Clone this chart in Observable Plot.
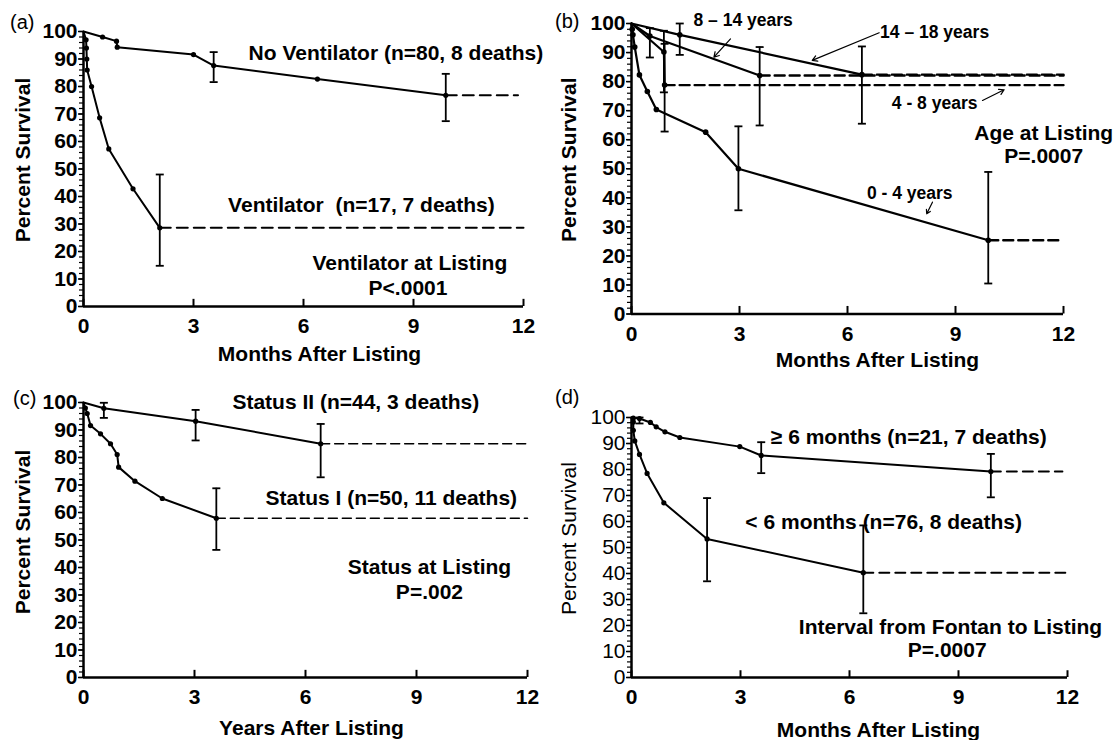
<!DOCTYPE html>
<html><head><meta charset="utf-8">
<script src="https://cdn.jsdelivr.net/npm/d3@7"></script>
<script src="https://cdn.jsdelivr.net/npm/@observablehq/plot@0.6"></script>
<style>
body{margin:0;background:#fff;}
#fig{position:relative;width:1117px;height:740px;overflow:hidden;background:#fff;font-family:"Liberation Sans",Arial,sans-serif;}
.panel{position:absolute;}
.plabel{position:absolute;font-size:20px;line-height:20px;color:#000;font-family:"Liberation Sans",Arial,sans-serif;}
</style></head><body><div id="fig"></div>
<script>
// ---------- shared tick labels ----------
const xTickValues = [0, 3, 6, 9, 12];
const yTickValues = [0, 10, 20, 30, 40, 50, 60, 70, 80, 90, 100];
const yMinorValues = d3.range(0, 101, 2);

// ---------- (a) Ventilator at listing ----------
const aNoVentX = [0, 0.52, 0.9, 0.92, 3.0, 3.55, 6.38, 9.88];
const aNoVentY = [100, 98.0, 96.5, 94.3, 91.6, 87.6, 82.7, 76.8];
const aNoVentEnd = 11.85;
const aNoVentErrX = [3.55, 9.88];
const aNoVentErrLo = [81.6, 67.4];
const aNoVentErrHi = [92.5, 84.6];
const aVentX = [0, 0.07, 0.08, 0.09, 0.1, 0.22, 0.44, 0.69, 1.35, 2.08];
const aVentY = [100, 97, 94, 90, 86, 80, 68.6, 57.3, 42.8, 28.6];
const aVentEnd = 12;
const aVentErrX = [2.08];
const aVentErrLo = [14.8];
const aVentErrHi = [48];

// ---------- (b) Age at listing ----------
const b1418X = [0, 1.34, 6.4];
const b1418Y = [100, 96.1, 82.4];
const b1418End = 12;
const b1418ErrX = [1.34, 6.4];
const b1418ErrLo = [89.2, 65.5];
const b1418ErrHi = [100, 92.1];
const b814X = [0, 0.51, 3.56];
const b814Y = [100, 95.7, 82.1];
const b814End = 12;
const b814ErrX = [0.51, 3.56];
const b814ErrLo = [88.3, 64.9];
const b814ErrHi = [98.4, 91.9];
const b48X = [0, 0.9, 0.92];
const b48Y = [100, 90.2, 78.8];
const b48End = 12;
const b48ErrX = [0.9, 0.92];
const b48ErrLo = [76.3, 62.8];
const b48ErrHi = [97.5, 93];
const b04X = [0, 0.02, 0.04, 0.09, 0.22, 0.44, 0.69, 2.06, 2.97, 9.91];
const b04Y = [100, 98, 96.1, 91.9, 82.3, 76.6, 70.4, 62.6, 50, 25.4];
const b04End = 11.87;
const b04ErrX = [2.97, 9.91];
const b04ErrLo = [35.7, 10.5];
const b04ErrHi = [64.6, 48.9];

// ---------- (c) Status at listing ----------
const cS2X = [0, 0.55, 3.03, 6.41];
const cS2Y = [100, 97.9, 93.2, 85.0];
const cS2End = 12;
const cS2ErrX = [0.55, 3.03, 6.41];
const cS2ErrLo = [94.4, 86.2, 72.8];
const cS2ErrHi = [99.9, 97.3, 92.2];
const cS1X = [0, 0.05, 0.1, 0.19, 0.46, 0.73, 0.91, 0.95, 1.39, 2.13, 3.59];
const cS1Y = [100, 98, 96, 91.6, 88.6, 85, 81.1, 76.5, 71.4, 65.1, 57.9];
const cS1End = 12;
const cS1ErrX = [3.59];
const cS1ErrLo = [46.4];
const cS1ErrHi = [68.8];

// ---------- (d) Interval from Fontan to listing ----------
const dGe6X = [0, 0.05, 0.22, 0.52, 0.68, 0.92, 1.33, 2.98, 3.57, 9.89];
const dGe6Y = [100, 99.8, 99.6, 98.1, 96.4, 94.5, 92.3, 88.8, 85.4, 79.2];
const dGe6End = 11.86;
const dGe6ErrX = [0.22, 3.57, 9.89];
const dGe6ErrLo = [97.7, 78.6, 69.3];
const dGe6ErrHi = [100, 90.5, 86];
const dLt6X = [0, 0.05, 0.05, 0.09, 0.22, 0.43, 0.89, 2.08, 6.38];
const dLt6Y = [100, 98.3, 95.1, 91, 85.8, 78.5, 67.2, 53.3, 40.3];
const dLt6End = 12;
const dLt6ErrX = [2.08, 6.38];
const dLt6ErrLo = [37, 24.7];
const dLt6ErrHi = [69, 58.5];

// ---------- helpers ----------
const FONT = "Liberation Sans, Arial, sans-serif";
const cap = {draw(ctx, size) { const r = Math.sqrt(size / Math.PI); ctx.moveTo(-r, 0); ctx.lineTo(r, 0); }};

function curve(xs, ys, end, ex, elo, ehi, o) {
  const pts = xs.map((x, i) => ({x, y: ys[i]}));
  const last = pts[pts.length - 1];
  const errs = ex.map((x, i) => ({x, lo: elo[i], hi: ehi[i]}));
  return [
    Plot.line(pts, {x: "x", y: "y", stroke: "black", strokeWidth: o.lw}),
    Plot.dot(pts.slice(1), {x: "x", y: "y", r: o.r, fill: "black"}),
    Plot.line([last, {x: end, y: last.y}], {x: "x", y: "y", stroke: "black", strokeWidth: o.dw, strokeDasharray: o.dash}),
    Plot.ruleX(errs, {x: "x", y1: "lo", y2: "hi", stroke: "black", strokeWidth: o.ew}),
    Plot.dot(errs, {x: "x", y: "lo", symbol: cap, r: 4, stroke: "black", fill: "none", strokeWidth: o.ew}),
    Plot.dot(errs, {x: "x", y: "hi", symbol: cap, r: 4, stroke: "black", fill: "none", strokeWidth: o.ew})
  ];
}

function frame(xTitle, xdx, xdy, ydx, ydy, tickFont) {
  return [
    Plot.axisY({ticks: yMinorValues, tickSize: 4, tickFormat: () => "", label: null, strokeWidth: 1.2}),
    Plot.axisY({ticks: yTickValues, tickSize: 5, tickPadding: 1, label: null, fontSize: 21, fontWeight: tickFont, fontFamily: FONT, strokeWidth: 1.5}),
    Plot.ruleX(xTickValues, {y1: 0, y2: 2.6, stroke: "black", strokeWidth: 2}),
    Plot.axisX({ticks: xTickValues, tickSize: 0, tickPadding: 12, label: null, fontSize: 21, fontWeight: "bold", fontFamily: FONT}),
    Plot.ruleX([0], {y1: 0, y2: 100, stroke: "black", strokeWidth: 2.5}),
    Plot.ruleY([0], {x1: 0, x2: 12, stroke: "black", strokeWidth: 2.5}),
    Plot.text([xTitle], {frameAnchor: "bottom", dx: xdx, dy: xdy, lineAnchor: "middle", fontSize: 21, fontWeight: "bold", fontFamily: FONT}),
    Plot.text(["Percent Survival"], {frameAnchor: "left", rotate: -90, dx: ydx, dy: ydy, lineAnchor: "middle", textAnchor: "middle", fontSize: 21, fontWeight: tickFont, fontFamily: FONT})
  ];
}

function note(str, x, y, size, weight) {
  return Plot.text([str], {x: () => x, y: () => y, text: d => d, fontSize: size, fontWeight: weight, fontFamily: FONT, lineAnchor: "middle", textAnchor: "middle", fill: "black"});
}

function panel(left, top, width, height, m, marks) {
  const svg = Plot.plot({
    width, height,
    marginLeft: m[0], marginRight: m[1], marginTop: m[2], marginBottom: m[3],
    x: {domain: [0, 12]},
    y: {domain: [0, 100]},
    style: {fontFamily: FONT, color: "black", background: "transparent", overflow: "visible"},
    marks
  });
  const div = document.createElement("div");
  div.className = "panel";
  div.style.left = left + "px";
  div.style.top = top + "px";
  div.appendChild(svg);
  document.getElementById("fig").appendChild(div);
}

function label(txt, left, top) {
  const d = document.createElement("div");
  d.className = "plabel";
  d.textContent = txt;
  d.style.left = left + "px";
  d.style.top = top + "px";
  document.getElementById("fig").appendChild(d);
}

const styleA = {lw: 2, r: 2.6, dw: 2, dash: "11,6", ew: 1.8};
const styleB = {lw: 2.2, r: 2.8, dw: 2.4, dash: "10,5", ew: 1.8};
const styleC = {lw: 2, r: 2.6, dw: 1.5, dash: "9,5", ew: 1.8};
const styleD = {lw: 2, r: 2.6, dw: 2, dash: "10,6", ew: 1.8};

// (a)
panel(0, 0, 555, 370, [83, 32, 31, 64], [
  ...frame("Months After Listing", 16, 48, -60, -9, "bold"),
  ...curve(aNoVentX, aNoVentY, aNoVentEnd, aNoVentErrX, aNoVentErrLo, aNoVentErrHi, styleA),
  ...curve(aVentX, aVentY, aVentEnd, aVentErrX, aVentErrLo, aVentErrHi, styleA),
  note("No Ventilator (n=80, 8 deaths)", 8.52, 92, 21, "bold"),
  note("Ventilator  (n=17, 7 deaths)", 7.58, 36.7, 21, "bold"),
  note("Ventilator at Listing", 8.9, 15.6, 21, "bold"),
  note("P<.0001", 8.85, 6.5, 21, "bold")
]);

// (b)
panel(555, 0, 562, 370, [76, 54, 23, 56.5], [
  ...frame("Months After Listing", 30, 46.5, -62, -9, "bold"),
  ...curve(b1418X, b1418Y, b1418End, b1418ErrX, b1418ErrLo, b1418ErrHi, styleB),
  ...curve(b814X, b814Y, b814End, b814ErrX, b814ErrLo, b814ErrHi, styleB),
  ...curve(b48X, b48Y, b48End, b48ErrX, b48ErrLo, b48ErrHi, styleB),
  ...curve(b04X, b04Y, b04End, b04ErrX, b04ErrLo, b04ErrHi, styleB),
  note("8 \u2013 14 years", 3.1, 101, 17.5, "bold"),
  note("14 \u2013 18 years", 8.42, 97, 17.5, "bold"),
  note("4 - 8 years", 8.42, 72.4, 17.5, "bold"),
  note("0 - 4 years", 7.73, 41.6, 17.5, "bold"),
  note("Age at Listing", 11.45, 62.2, 21, "bold"),
  note("P=.0007", 11.45, 54.2, 21, "bold"),
  Plot.arrow([{x1: 2.75, y1: 94.7, x2: 2.29, y2: 88.4}, {x1: 6.88, y1: 96.8, x2: 5.02, y2: 87.3},
              {x1: 9.75, y1: 73.5, x2: 10.35, y2: 77.2}, {x1: 8.36, y1: 38.5, x2: 8.2, y2: 34.5}],
    {x1: "x1", y1: "y1", x2: "x2", y2: "y2", stroke: "black", strokeWidth: 1.2, headLength: 7})
]);

// (c)
panel(0, 370, 555, 370, [83, 28, 32, 63], [
  ...frame("Years After Listing", 6, 51, -60, -8, "bold"),
  ...curve(cS2X, cS2Y, cS2End, cS2ErrX, cS2ErrLo, cS2ErrHi, styleC),
  ...curve(cS1X, cS1Y, cS1End, cS1ErrX, cS1ErrLo, cS1ErrHi, styleC),
  note("Status II (n=44, 3 deaths)", 7.36, 100.1, 21, "bold"),
  note("Status I (n=50, 11 deaths)", 8.32, 65, 21, "bold"),
  note("Status at Listing", 9.35, 40.1, 21, "bold"),
  note("P=.002", 9.35, 31, 21, "bold")
]);

// (d)
panel(555, 370, 562, 370, [76, 50, 47, 63], [
  ...frame("Months After Listing", 29, 53, -62, -9, "normal"),
  ...curve(dGe6X, dGe6Y, dGe6End, dGe6ErrX, dGe6ErrLo, dGe6ErrHi, styleD),
  ...curve(dLt6X, dLt6Y, dLt6End, dLt6ErrX, dLt6ErrLo, dLt6ErrHi, styleD),
  note("\u2265 6 months (n=21, 7 deaths)", 7.63, 92.3, 21, "bold"),
  note("< 6 months (n=76, 8 deaths)", 6.94, 59.7, 21, "bold"),
  note("Interval from Fontan to Listing", 8.78, 19.4, 21, "bold"),
  note("P=.0007", 8.69, 10.4, 21, "bold")
]);

label("(a)", 10, 12);
label("(b)", 555, 11);
label("(c)", 13, 388);
label("(d)", 555, 387);
</script>
</body></html>
